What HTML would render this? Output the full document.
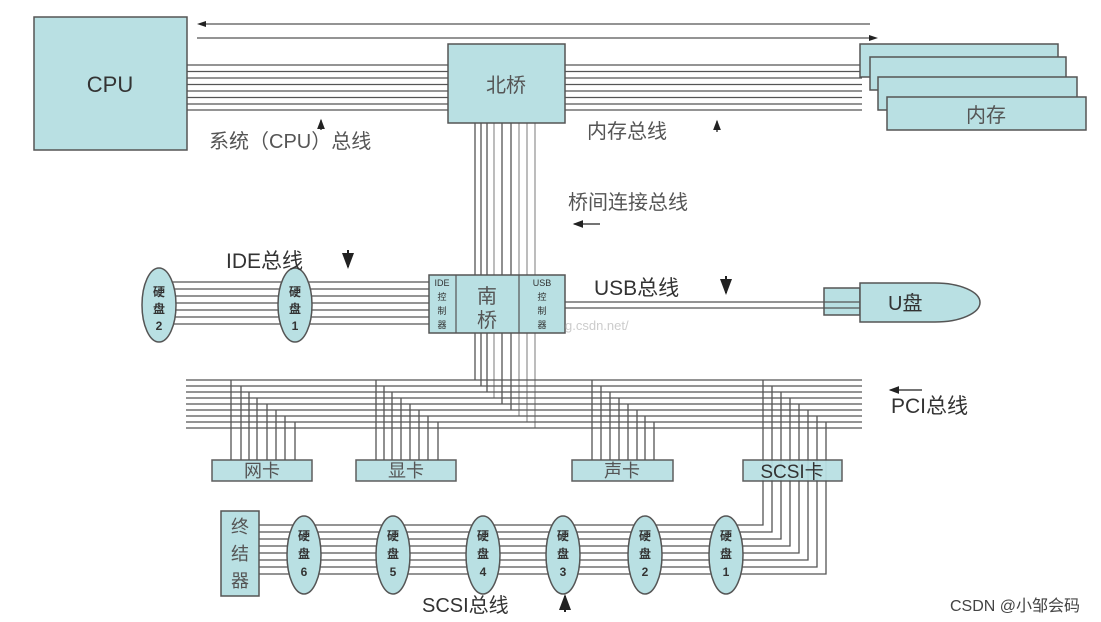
<!DOCTYPE html>
<html><head><meta charset="utf-8"><style>
html,body{margin:0;padding:0;background:#fff;}
svg{display:block;}
text{font-family:"Liberation Sans","Noto Sans CJK SC",sans-serif;}
</style></head><body>
<svg width="1101" height="622" viewBox="0 0 1101 622" xmlns="http://www.w3.org/2000/svg">
<defs>
<marker id="ah" markerWidth="8" markerHeight="6" refX="7" refY="3" orient="auto"><path d="M0,0 L8,3 L0,6 z" fill="#222"/></marker>
</defs>
<g fill="none" stroke="#555" stroke-width="1.3">
<!-- top lines -->
<path d="M870 24H200"/>
<path d="M197 38H872"/>
<!-- CPU bus & memory bus -->
<path d="M187 65H448M187 71.5H448M187 78H448M187 84.5H448M187 91H448M187 97.5H448M187 104H448M187 110H448"/>
<path d="M565 65H862M565 71.5H862M565 78H862M565 84.5H862M565 91H862M565 97.5H862M565 104H862M565 110H862"/>
<!-- bridge verticals -->
<path d="M475 123V380M481 123V386M487 123V392M502 123V404M511 123V410"/>
<path stroke="#999" d="M494 123V398M519 123V416M527 123V422M535 123V428"/>
<!-- IDE lines -->
<path d="M159 282H429M159 289H429M159 296H429M159 303H429M159 310H429M159 317H429M159 324H429"/>
<!-- USB lines -->
<path d="M565 302H824M565 308H824"/>
<!-- PCI bus -->
<path d="M186 380H862M186 386H862M186 392H862M186 398H862M186 404H862M186 410H862M186 416H862M186 422H862M186 428H862"/>
<!-- card drops -->
<path d="M231 380V460M241 386V460M249 392V460M257 398V460M267 404V460M276 410V460M285 416V460M295 422V460"/>
<path d="M376 380V460M384 386V460M392 392V460M401 398V460M410 404V460M419 410V460M428 416V460M438 422V460"/>
<path d="M592 380V460M601 386V460M610 392V460M619 398V460M628 404V460M637 410V460M645 416V460M654 422V460"/>
<!-- SCSI -->
<path d="M763 380V525H259M772 386V532H259M781 392V539H259M790 398V546H259M799 404V553H259M808 410V560H259M817 416V567H259M826 422V574H259"/>
<!-- small arrows -->
<path d="M321 130V120" marker-end="url(#ah)" stroke="#222"/>
<path d="M717 132V121" marker-end="url(#ah)" stroke="#222"/>
<path d="M600 224H574" marker-end="url(#ah)" stroke="#222"/>
<path d="M348 250V267" marker-end="url(#ah)" stroke="#222" stroke-width="2"/>
<path d="M726 276V293" marker-end="url(#ah)" stroke="#222" stroke-width="2"/>
<path d="M922 390H890" marker-end="url(#ah)" stroke="#222"/>
<path d="M565 612V596" marker-end="url(#ah)" stroke="#222" stroke-width="2"/>
</g>
<path d="M197 24 L206 21 L206 27z" fill="#222"/>
<path d="M878 38 L869 35 L869 41z" fill="#222"/>
<g fill="#b9e0e3" stroke="#555" stroke-width="1.5">
<rect x="34" y="17" width="153" height="133"/>
<rect x="448" y="44" width="117" height="79"/>
<rect x="860" y="44" width="198" height="33"/>
<rect x="870" y="57" width="196" height="33"/>
<rect x="878" y="77" width="199" height="33"/>
<rect x="887" y="97" width="199" height="33"/>
<rect x="429" y="275" width="136" height="58"/>
<ellipse cx="159" cy="305" rx="17" ry="37"/>
<ellipse cx="295" cy="305" rx="17" ry="37"/>
<rect x="824" y="288" width="36" height="27"/>
<path d="M860 283 H935 A45 19.5 0 0 1 935 322 H860 Z"/>
<rect x="212" y="460" width="100" height="21" opacity="0.95"/>
<rect x="356" y="460" width="100" height="21" opacity="0.95"/>
<rect x="572" y="460" width="101" height="21" opacity="0.95"/>
<rect x="743" y="460" width="99" height="21" opacity="0.95"/>
<rect x="221" y="511" width="38" height="85"/>
<ellipse cx="304" cy="555" rx="17" ry="39"/>
<ellipse cx="393" cy="555" rx="17" ry="39"/>
<ellipse cx="483" cy="555" rx="17" ry="39"/>
<ellipse cx="563" cy="555" rx="17" ry="39"/>
<ellipse cx="645" cy="555" rx="17" ry="39"/>
<ellipse cx="726" cy="555" rx="17" ry="39"/>
</g>
<path d="M456 275V333M519 275V333M824 302H860M824 308H860" stroke="#555" stroke-width="1.2" fill="none"/>
<g fill="#333">
<text x="110" y="92" font-size="22" text-anchor="middle">CPU</text>
<text x="506" y="92" font-size="20" text-anchor="middle" fill="#555">北桥</text>
<text x="986" y="122" font-size="20" text-anchor="middle" fill="#555">内存</text>
<text x="209" y="148" font-size="20" fill="#555">系统（CPU）总线</text>
<text x="587" y="138" font-size="20" fill="#555">内存总线</text>
<text x="568" y="209" font-size="20" fill="#555">桥间连接总线</text>
<text x="226" y="268" font-size="21">IDE总线</text>
<text x="594" y="295" font-size="21">USB总线</text>
<text x="888" y="310" font-size="20">U盘</text>
<text x="891" y="413" font-size="21">PCI总线</text>
<text x="422" y="612" font-size="20">SCSI总线</text>
<text x="487" y="303" font-size="20" text-anchor="middle" fill="#555">南</text>
<text x="487" y="327" font-size="20" text-anchor="middle" fill="#555">桥</text>
<g font-size="9" text-anchor="middle">
<text x="442" y="286">IDE</text><text x="442" y="300">控</text><text x="442" y="314">制</text><text x="442" y="328">器</text>
<text x="542" y="286">USB</text><text x="542" y="300">控</text><text x="542" y="314">制</text><text x="542" y="328">器</text>
</g>
<g font-size="12" text-anchor="middle" font-weight="bold">
<text x="159" y="296">硬</text><text x="159" y="313">盘</text><text x="159" y="330">2</text>
<text x="295" y="296">硬</text><text x="295" y="313">盘</text><text x="295" y="330">1</text>
<text x="304" y="540">硬</text><text x="304" y="558">盘</text><text x="304" y="576">6</text>
<text x="393" y="540">硬</text><text x="393" y="558">盘</text><text x="393" y="576">5</text>
<text x="483" y="540">硬</text><text x="483" y="558">盘</text><text x="483" y="576">4</text>
<text x="563" y="540">硬</text><text x="563" y="558">盘</text><text x="563" y="576">3</text>
<text x="645" y="540">硬</text><text x="645" y="558">盘</text><text x="645" y="576">2</text>
<text x="726" y="540">硬</text><text x="726" y="558">盘</text><text x="726" y="576">1</text>
</g>
<g font-size="18" text-anchor="middle" fill="#555">
<text x="262" y="477">网卡</text>
<text x="406" y="477">显卡</text>
<text x="622" y="477">声卡</text>
<text x="240" y="533">终</text><text x="240" y="560">结</text><text x="240" y="587">器</text>
</g>
<text x="792" y="478" font-size="19" text-anchor="middle">SCSI卡</text>
<text x="565" y="330" font-size="13" fill="#ccc" font-family="Liberation Mono">g.csdn.net/</text>
<text x="950" y="611" font-size="16" fill="#444">CSDN @小邹会码</text>
</g>
</svg>
</body></html>
